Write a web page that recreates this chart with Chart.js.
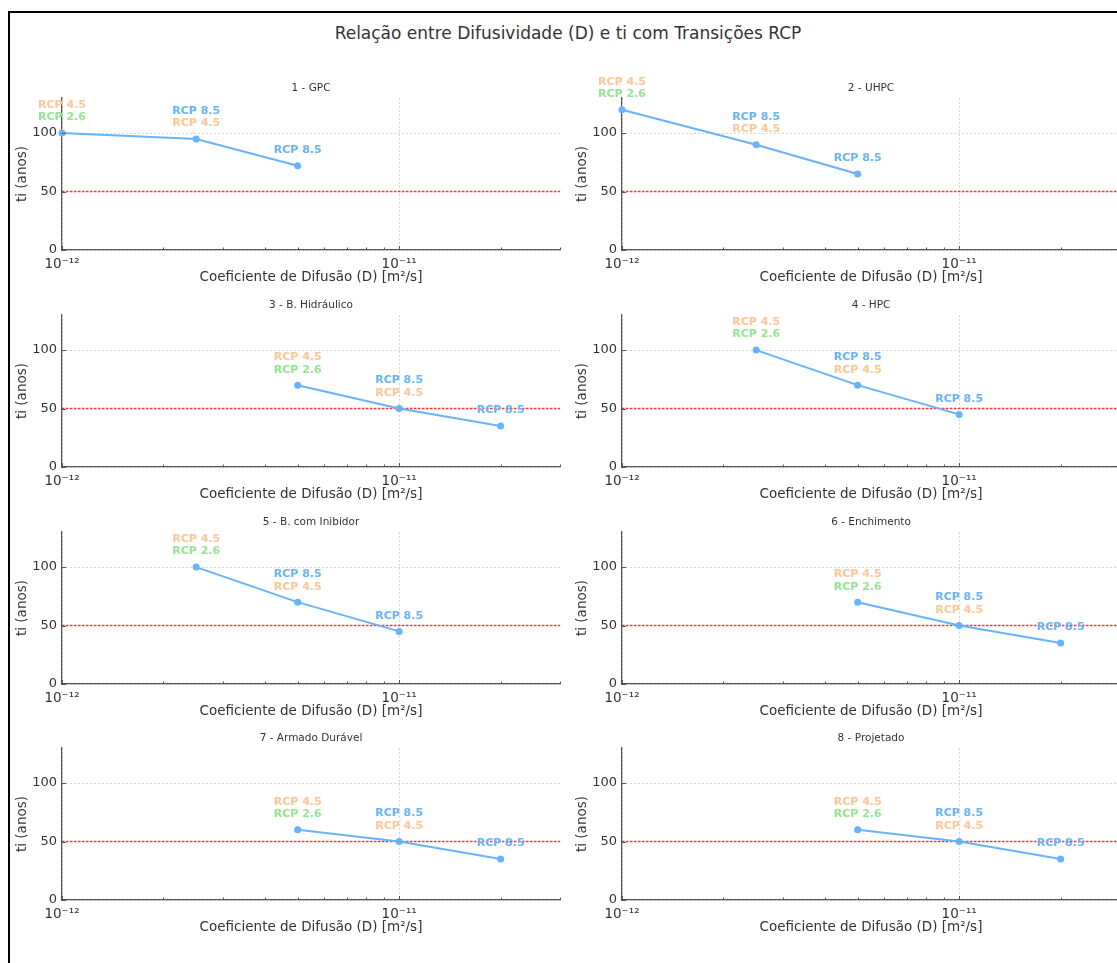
<!DOCTYPE html>
<html><head><meta charset="utf-8">
<script src="https://cdn.jsdelivr.net/npm/chart.js@4.4.1/dist/chart.umd.min.js"></script>
<style>
html,body{margin:0;padding:0;background:#fff;overflow:hidden;width:1117px;height:963px;}
#frame{position:absolute;left:8px;top:11px;width:1300px;height:1100px;border-left:2px solid #000;border-top:2px solid #000;}
#title{position:absolute;left:0;width:1136px;top:23px;line-height:20px;text-align:center;font-family:"DejaVu Sans";font-size:17px;color:#333;}
canvas{position:absolute;}
</style></head><body>
<div id="frame"></div>
<div id="title">Relação entre Difusividade (D) e ti com Transições RCP</div>
<script>
// ---- data ----
const subplotTitles = ['1 - GPC','2 - UHPC','3 - B. Hidráulico','4 - HPC','5 - B. com Inibidor','6 - Enchimento','7 - Armado Durável','8 - Projetado'];
const dValues = [
  [1e-12, 2.5e-12, 5e-12],
  [1e-12, 2.5e-12, 5e-12],
  [5e-12, 1e-11, 2e-11],
  [2.5e-12, 5e-12, 1e-11],
  [2.5e-12, 5e-12, 1e-11],
  [5e-12, 1e-11, 2e-11],
  [5e-12, 1e-11, 2e-11],
  [5e-12, 1e-11, 2e-11]
];
const tiValues = [
  [100, 95, 72],
  [120, 90, 65],
  [70, 50, 35],
  [100, 70, 45],
  [100, 70, 45],
  [70, 50, 35],
  [60, 50, 35],
  [60, 50, 35]
];
const pointLabels = [['RCP 4.5','RCP 2.6'], ['RCP 8.5','RCP 4.5'], ['RCP 8.5']];
const thresholdValue = 50;
const xRange = [1e-12, 3e-11];
const yRange = [0, 130];
const xTickValues = [1e-12,2e-12,3e-12,4e-12,5e-12,6e-12,7e-12,8e-12,9e-12,1e-11,2e-11,3e-11];
const xMajorTicks = [1e-12, 1e-11];
const xTickLabels = ['10\u207B\u00B9\u00B2', '10\u207B\u00B9\u00B9'];
const yTickValues = [0, 50, 100];
const xAxisTitle = 'Coeficiente de Difusão (D) [m²/s]';
const yAxisTitle = 'ti (anos)';

// ---- styles ----
const labelColors = {'RCP 8.5':'#66b3ff','RCP 4.5':'#ffc594','RCP 2.6':'#8fe88f'};
const FONT = '"DejaVu Sans"';
const rowTops = [98, 315, 532, 748];
const colLefts = [0, 560];
const TOP_SPACE = 40, PLOT_H = 152, BOTTOM_SPACE = 48, CANVAS_W = 567;

const annot = {
  id: 'annot',
  afterDatasetsDraw(chart) {
    const ctx = chart.ctx, xs = chart.scales.x, ys = chart.scales.y, a = chart.chartArea;
    ctx.save();
    ctx.strokeStyle = '#555'; ctx.lineWidth = 1;
    xs.ticks.forEach(t => {
      const px = Math.round(xs.getPixelForValue(t.value)) + 0.5;
      const len = t.major ? 4 : 2.5;
      ctx.beginPath(); ctx.moveTo(px, a.bottom); ctx.lineTo(px, a.bottom - len); ctx.stroke();
    });
    ys.ticks.forEach(t => {
      const py = Math.round(ys.getPixelForValue(t.value)) + 0.5;
      ctx.beginPath(); ctx.moveTo(a.left, py); ctx.lineTo(a.left + 4, py); ctx.stroke();
    });
    const meta = chart.getDatasetMeta(0);
    ctx.font = 'bold 11px ' + FONT;
    ctx.textAlign = 'center'; ctx.textBaseline = 'middle';
    meta.data.forEach((pt, i) => {
      const lines = pointLabels[i];
      lines.forEach((txt, j) => {
        const off = (lines.length - 1 - j) * 12.5 + 15.5;
        ctx.fillStyle = labelColors[txt];
        ctx.fillText(txt, pt.x, pt.y - off);
      });
    });
    ctx.restore();
  }
};

subplotTitles.forEach((ttl, k) => {
  const col = k % 2, row = Math.floor(k / 2);
  const cv = document.createElement('canvas');
  cv.width = CANVAS_W; cv.height = TOP_SPACE + PLOT_H + BOTTOM_SPACE;
  cv.style.left = colLefts[col] + 'px';
  cv.style.top = (rowTops[row] - TOP_SPACE) + 'px';
  cv.style.width = cv.width + 'px'; cv.style.height = cv.height + 'px';
  document.body.appendChild(cv);
  new Chart(cv, {
    type: 'line',
    data: {
      datasets: [
        {
          data: dValues[k].map((d, i) => ({x: d, y: tiValues[k][i]})),
          borderColor: '#66b3ff', backgroundColor: '#66b3ff', borderWidth: 2,
          pointRadius: 3.5, pointBackgroundColor: '#66b3ff', pointBorderWidth: 0,
          clip: false, tension: 0
        },
        {
          data: xRange.map(x => ({x: x, y: thresholdValue})),
          borderColor: '#ff3030', borderWidth: 1.5, borderDash: [2.5, 1.5],
          pointRadius: 0
        }
      ]
    },
    options: {
      responsive: false, animation: false, devicePixelRatio: 1,
      layout: {padding: {left: 0, right: 4, top: 0, bottom: 0}},
      plugins: {
        legend: {display: false}, tooltip: {enabled: false},
        title: {display: true, text: ttl, color: '#333', fullSize: false,
          font: {family: FONT, size: 10.5, weight: 'normal', lineHeight: '12px'},
          padding: {top: 24, bottom: 4}}
      },
      scales: {
        x: {
          type: 'logarithmic', min: xRange[0], max: xRange[1],
          afterBuildTicks: s => { s.ticks = xTickValues.map(v => ({value: v, major: xMajorTicks.includes(v)})); },
          afterFit: s => { s.height = BOTTOM_SPACE; },
          ticks: {autoSkip: false, maxRotation: 0, minRotation: 0, padding: 7, color: '#333',
            font: {family: FONT, size: 13.5, lineHeight: '15px'},
            callback: (v) => { const i = xMajorTicks.indexOf(v); return i >= 0 ? xTickLabels[i] : ''; }},
          grid: {drawTicks: false, lineWidth: 1,
            color: c => (c.tick && c.tick.major) ? '#d4d4d4' : 'rgba(0,0,0,0)'},
          border: {display: true, color: '#555', width: 1.2, dash: [2, 2]},
          title: {display: true, text: xAxisTitle, color: '#333',
            font: {family: FONT, size: 13.5, lineHeight: '16px'}, padding: {top: 0, bottom: 13}}
        },
        y: {
          type: 'linear', min: yRange[0], max: yRange[1],
          afterBuildTicks: s => { s.ticks = yTickValues.map(v => ({value: v})); },
          afterFit: s => { s.width = 62; },
          ticks: {padding: 5, color: '#333', font: {family: FONT, size: 13}},
          grid: {drawTicks: false, lineWidth: 1,
            color: c => (c.tick && c.tick.value === thresholdValue) ? 'rgba(0,0,0,0)' : '#d4d4d4'},
          border: {display: true, color: '#555', width: 1.2, dash: [2, 2]},
          title: {display: true, text: yAxisTitle, color: '#333',
            font: {family: FONT, size: 13.5, lineHeight: '16px'}, padding: {top: 14, bottom: 0}}
        }
      }
    },
    plugins: [annot]
  });
});
</script>
</body></html>
